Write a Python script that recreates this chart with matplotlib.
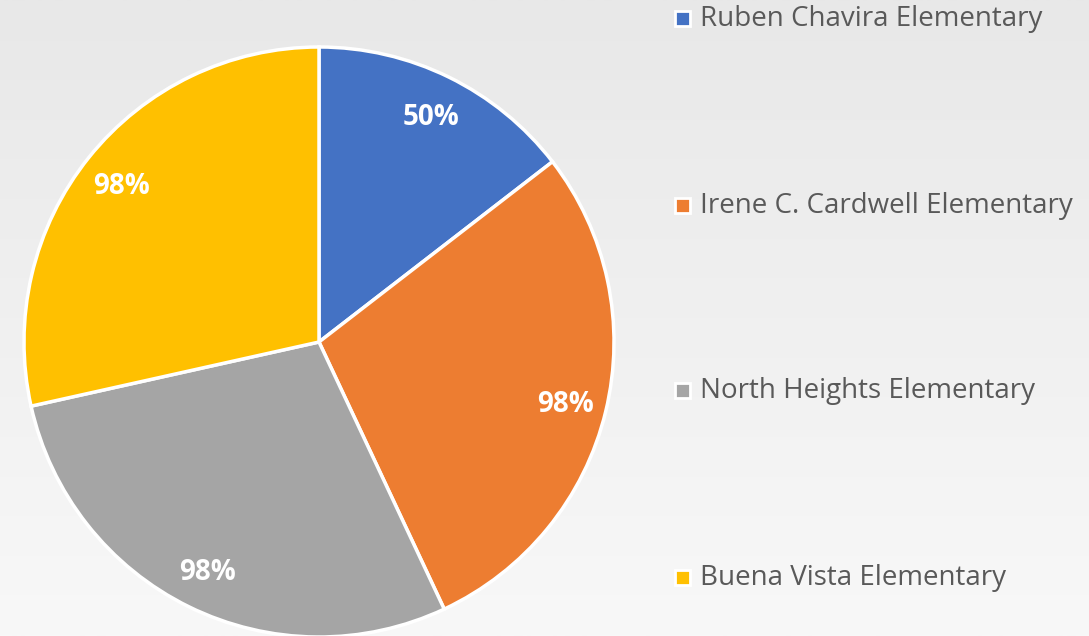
import numpy as np
import matplotlib
matplotlib.use("Agg")
import matplotlib.pyplot as plt

escolas = ["Ruben Chavira Elementary", "Irene C. Cardwell Elementary",
           "North Heights Elementary", "Buena Vista Elementary"]
valores = [50, 98, 98, 98]
rotulos = ["50%", "98%", "98%", "98%"]
cores = ["#4472C4", "#ED7D31", "#A5A5A5", "#FFC000"]

plt.rcParams["font.family"] = ["Open Sans", "DejaVu Sans"]

fig = plt.figure(figsize=(10.89, 6.36), dpi=100)

# fundo em degrade cinza
bg = fig.add_axes([0, 0, 1, 1], zorder=-1)
grad = np.linspace(0, 1, 256).reshape(-1, 1)
bg.imshow(grad, aspect="auto", cmap=matplotlib.colors.LinearSegmentedColormap.from_list(
    "g", ["#e8e8e8", "#f8f8f8"]), extent=[0, 1, 0, 1], origin="upper")
bg.axis("off")

# pizza: centro (319, 342) px, raio ~295 px
R = 295
ax = fig.add_axes([(319 - R) / 1089, (636 - 342 - R) / 636, 2 * R / 1089, 2 * R / 636])
wedges, textos = ax.pie(valores, colors=cores, startangle=90, counterclock=False,
                        labels=None, radius=1,
                        wedgeprops=dict(edgecolor="white", linewidth=2.5))
ax.set_xlim(-1, 1)
ax.set_ylim(-1, 1)
ax.set_aspect("auto")
ax.axis("off")

# rotulos de valor
total = sum(valores)
ang = 90
for w, txt in zip(valores, rotulos):
    meio = np.deg2rad(ang - w / total * 180)
    ax.text(0.86 * np.cos(meio), 0.86 * np.sin(meio) - 0.01, txt, ha="center", va="center",
            color="white", fontsize=20, fontweight="bold")
    ang -= w / total * 360

# legenda
lax = fig.add_axes([0, 0, 1, 1], zorder=2)
lax.set_xlim(0, 1089)
lax.set_ylim(636, 0)
lax.axis("off")
ys = [18, 205, 390, 577]
for y, nome, c in zip(ys, escolas, cores):
    lax.add_patch(plt.Rectangle((675, y - 7.5), 15, 15, facecolor=c, edgecolor="white", linewidth=2))
    lax.text(700, y + 1, nome, ha="left", va="center", color="#595959", fontsize=20)

fig.savefig("out.png", dpi=100)
